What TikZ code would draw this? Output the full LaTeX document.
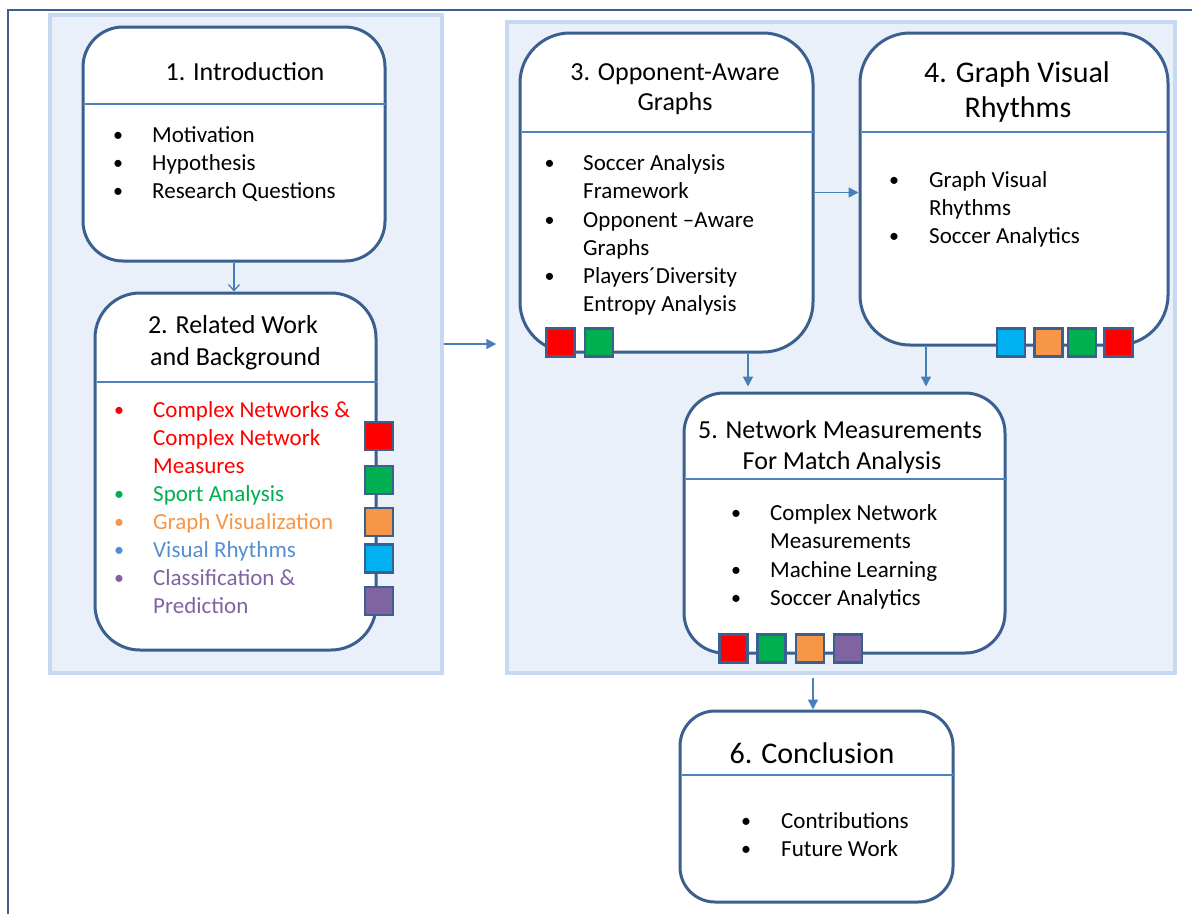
\documentclass[tikz,border=0pt]{standalone}
\usepackage{fontspec}
\setmainfont{Carlito}
\usetikzlibrary{arrows.meta}
\definecolor{boxline}{HTML}{3B6090}
\definecolor{divline}{HTML}{4F81BD}
\definecolor{arrcol}{HTML}{4A7EBB}
\definecolor{panelfill}{HTML}{EAF0F9}
\definecolor{panelline}{HTML}{C6D9F1}
\definecolor{cRed}{HTML}{FF0000}
\definecolor{cGreen}{HTML}{00B050}
\definecolor{cOrange}{HTML}{F79646}
\definecolor{cCyan}{HTML}{00B0F0}
\definecolor{cPurple}{HTML}{8064A2}
\definecolor{cBlueText}{HTML}{558ED5}
\begin{document}
\begin{tikzpicture}[x=1pt,y=-1pt,
  panel/.style={draw=panelline,fill=panelfill,line width=3.5pt,inner sep=0pt},
  box/.style={draw=boxline,fill=white,line width=3pt,inner sep=0pt},
  divl/.style={draw=divline,line width=1.1pt},
  sq/.style={draw=boxline,line width=2.6pt,minimum size=28pt,inner sep=0pt},
  body/.style={inner sep=0pt,font=\fontsize{23}{28}\selectfont},
  ttl/.style={inner sep=0pt,anchor=base,font=\fontsize{26}{31}\selectfont},
  ttlbig/.style={inner sep=0pt,anchor=base,font=\fontsize{30}{36}\selectfont},
  bul/.style={inner sep=0pt,anchor=base,font=\fontsize{20}{28}\selectfont,yshift=1pt},
  txt/.style={inner sep=0pt,anchor=base west,font=\fontsize{23}{28}\selectfont},
  arr/.style={draw=arrcol,line width=1.5pt,-{Triangle[length=10pt,width=10pt]}},
  arrthin/.style={draw=arrcol,line width=1.3pt,-{Straight Barb[length=6pt,width=11pt]}}
]
\useasboundingbox (0,0) rectangle (1192,914);
% outer frame
\draw[boxline,line width=2.5pt] (8,914) -- (8,10) -- (1192,10);
% panels
\node[panel,minimum width=392pt,minimum height=658pt] (pL) at (246,344) {};
\node[panel,minimum width=668pt,minimum height=651pt] (pR) at (841,347.5) {};
% boxes
\node[box,rounded corners=40pt,minimum width=302pt,minimum height=234pt] (b1) at (234,144) {};
\node[box,rounded corners=45pt,minimum width=281pt,minimum height=357pt] (b2) at (235.5,471.5) {};
\node[box,rounded corners=50pt,minimum width=293pt,minimum height=319pt] (b3) at (666.5,192.5) {};
\node[box,rounded corners=50pt,minimum width=308pt,minimum height=312pt] (b4) at (1014,189) {};
\node[box,rounded corners=40pt,minimum width=321pt,minimum height=260pt] (b5) at (844.5,523) {};
\node[box,rounded corners=35pt,minimum width=273pt,minimum height=191pt] (b6) at (816.5,806.5) {};
% dividers
\draw[divl] (85,104) -- (387,104);
\draw[divl] (97,382) -- (377,382);
\draw[divl] (522,132) -- (815,132);
\draw[divl] (862,132) -- (1168,132);
\draw[divl] (686,479) -- (1007,479);
\draw[divl] (682,775) -- (955,775);
% colour squares
\node[sq,fill=cRed] (s2a) at (379,436) {};
\node[sq,fill=cGreen] (s2b) at (379,480) {};
\node[sq,fill=cOrange] (s2c) at (379,522) {};
\node[sq,fill=cCyan] (s2d) at (379,558.5) {};
\node[sq,fill=cPurple] (s2e) at (379,601) {};
\node[sq,fill=cRed] (s3a) at (560.5,342.5) {};
\node[sq,fill=cGreen] (s3b) at (599,342.5) {};
\node[sq,fill=cCyan] (s4a) at (1011,342.5) {};
\node[sq,fill=cOrange] (s4b) at (1048.5,342.5) {};
\node[sq,fill=cGreen] (s4c) at (1082,342.5) {};
\node[sq,fill=cRed] (s4d) at (1118.5,342.5) {};
\node[sq,fill=cRed] (s5a) at (733.5,648.5) {};
\node[sq,fill=cGreen] (s5b) at (771.5,648.5) {};
\node[sq,fill=cOrange] (s5c) at (810,648.5) {};
\node[sq,fill=cPurple] (s5d) at (848,648.5) {};
% box 1
\node[ttl] (t1) at (245,80) {1. Introduction};
\node[bul] (u1a) at (118,142) {•};
\node[txt] (x1a) at (152,142) {Motivation};
\node[bul] (u1b) at (118,170) {•};
\node[txt] (x1b) at (152,170) {Hypothesis};
\node[bul] (u1c) at (118,198) {•};
\node[txt] (x1c) at (152,198) {Research Questions};
% box 2
\node[ttl] (t2a) at (233,333) {2. Related Work};
\node[ttl] (t2b) at (235.5,365) {and Background};
\node[bul,text=cRed] (u2a) at (119,417) {•};
\node[txt,text=cRed] (x2a) at (153,417) {Complex Networks \&};
\node[txt,text=cRed] (x2b) at (153,445) {Complex Network};
\node[txt,text=cRed] (x2c) at (153,473) {Measures};
\node[bul,text=cGreen] (u2d) at (119,501) {•};
\node[txt,text=cGreen] (x2d) at (153,501) {Sport Analysis};
\node[bul,text=cOrange] (u2e) at (119,529) {•};
\node[txt,text=cOrange] (x2e) at (153,529) {Graph Visualization};
\node[bul,text=cBlueText] (u2f) at (119,557) {•};
\node[txt,text=cBlueText] (x2f) at (153,557) {Visual Rhythms};
\node[bul,text=cPurple] (u2g) at (119,585) {•};
\node[txt,text=cPurple] (x2g) at (153,585) {Classification \&};
\node[txt,text=cPurple] (x2h) at (153,613) {Prediction};
% box 3
\node[ttl] (t3a) at (675,80) {3. Opponent-Aware};
\node[ttl] (t3b) at (675,110.5) {Graphs};
\node[bul] (u3a) at (549.5,170) {•};
\node[txt] (x3a) at (583,170) {Soccer Analysis};
\node[txt] (x3b) at (583,198) {Framework};
\node[bul] (u3c) at (549.5,227) {•};
\node[txt] (x3c) at (583,227) {Opponent –Aware};
\node[txt] (x3d) at (583,255) {Graphs};
\node[bul] (u3e) at (549.5,283) {•};
\node[txt] (x3e) at (583,283) {Players´Diversity};
\node[txt] (x3f) at (583,311.5) {Entropy Analysis};
% box 4
\node[ttlbig] (t4a) at (1017,82) {4. Graph Visual};
\node[ttlbig] (t4b) at (1018,117) {Rhythms};
\node[bul] (u4a) at (894,187) {•};
\node[txt] (x4a) at (929,187) {Graph Visual};
\node[txt] (x4b) at (929,215) {Rhythms};
\node[bul] (u4c) at (894,243) {•};
\node[txt] (x4c) at (929,243) {Soccer Analytics};
% box 5
\node[ttl] (t5a) at (840,438) {5. Network Measurements};
\node[ttl] (t5b) at (842,469) {For Match Analysis};
\node[bul] (u5a) at (736,520) {•};
\node[txt] (x5a) at (770,520) {Complex Network};
\node[txt] (x5b) at (770,548) {Measurements};
\node[bul] (u5c) at (736,577) {•};
\node[txt] (x5c) at (770,577) {Machine Learning};
\node[bul] (u5d) at (736,605) {•};
\node[txt] (x5d) at (770,605) {Soccer Analytics};
% box 6
\node[ttlbig] (t6) at (812,763) {6. Conclusion};
\node[bul] (u6a) at (746,828) {•};
\node[txt] (x6a) at (781,828) {Contributions};
\node[bul] (u6b) at (746,856) {•};
\node[txt] (x6b) at (781,856) {Future Work};
% connectors
\draw[arrthin] (b1.south) -- (b1.south |- b2.north);
\draw[arr,shorten >=9pt] (pL.east) -- (pL.east -| pR.west);
\draw[arr] (b3.east) -- (b3.east -| b4.west);
\draw[arr,shorten >=5pt] ([xshift=81.5pt]b3.south) -- ([xshift=81.5pt]b3.south |- b5.north);
\draw[arr,shorten >=5pt] ([xshift=-88pt]b4.south) -- ([xshift=-88pt]b4.south |- b5.north);
\draw[arr,shorten <=3pt] ([xshift=-3.5pt]b6.north |- pR.south) -- ([xshift=-3.5pt]b6.north);
\end{tikzpicture}
\end{document}
